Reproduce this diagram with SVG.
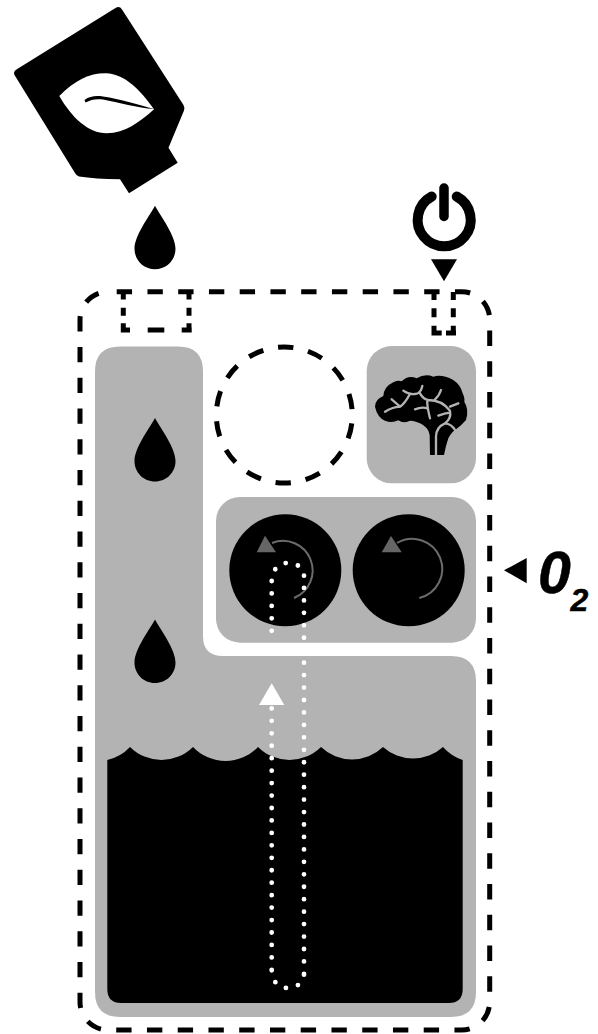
<svg xmlns="http://www.w3.org/2000/svg" width="598" height="1034" viewBox="0 0 598 1034">
<style>
.gray{fill:#b3b3b3}
.ink{fill:#000}
.dash{fill:none;stroke:#000;stroke-width:5}
.rot{fill:none;stroke:#6b6b6b;stroke-width:2}
.rothead{fill:#666}
.vein{fill:none;stroke:#b3b3b3;stroke-width:7;stroke-linecap:round;stroke-linejoin:round}
.dots{fill:none;stroke:#fff;stroke-width:4.8;stroke-linecap:round;stroke-dasharray:0 12.45}
.lbl{font-family:"Liberation Sans",Arial,sans-serif;font-weight:bold;font-style:italic;fill:#000;stroke:#000;stroke-width:.5}
</style>
<defs>
<path id="drop" d="M0 0C6 11 20.500 30 20.500 43C20.500 54.500 11.500 63.500 0 63.500C-11.500 63.500 -20.500 54.500 -20.500 43C-20.500 30 -6 11 0 0Z"/>
</defs>
<rect width="598" height="1034" fill="#fff"/>
<g id="tank-body">
<path class="gray" d="M120 346.500H178Q203 346.500 203 371.500V636Q203 656 223 656H451Q476 656 476 681V992Q476 1017 451 1017H120Q95 1017 95 992V371.500Q95 346.500 120 346.500Z"/>
</g>
<g id="water">
<path class="ink" d="M107.300 760A44.700 44.700 0 0 0 130 747A44.700 44.700 0 0 0 193 747A44.700 44.700 0 0 0 258 747A44.700 44.700 0 0 0 321 747A44.700 44.700 0 0 0 383 747A44.700 44.700 0 0 0 443 747A44.700 44.700 0 0 0 462.700 760V989Q462.700 1003 448.700 1003H121.300Q107.300 1003 107.300 989Z"/>
</g>
<g id="pump-box">
<rect class="gray" x="216" y="497" width="260" height="145.700" rx="24"/>
<circle class="ink" cx="285.300" cy="570.300" r="56"/>
<circle class="ink" cx="408.700" cy="570.300" r="56"/>
<path class="rot" d="M272 543A29.500 29.500 0 1 1 294 598"/>
<polygon class="rothead" points="265,535.700 256.700,552.300 276,552.300"/>
<path class="rot" d="M397 543A30 30 0 1 1 419.300 598"/>
<polygon class="rothead" points="391,536 381.700,552.300 401.700,552.300"/>
</g>
<g id="brain-box">
<rect class="gray" x="366.700" y="346" width="109.300" height="137.300" rx="25"/>
<g transform="translate(370 370) scale(.3333)">
<path class="ink" d="M180 255L179 195Q176 172 150 160Q128 150 118 153Q100 162 85 151Q65 160 45 152Q22 142 15 110Q15 88 40 78Q42 50 70 37Q85 30 95 34Q115 14 140 25Q165 10 190 20Q215 12 250 30Q272 45 278 70Q285 85 283 95Q298 120 288 150Q275 165 262 175Q245 185 235 205Q228 225 222 255Z"/>
<path class="vein" d="M45 125Q65 112 90 110Q105 100 118 75M65 88L90 110M100 62Q118 75 135 72Q152 72 157 48M150 70Q160 88 175 90Q215 90 240 122Q245 145 225 160Q198 172 198 200V255M172 90Q170 105 180 145M135 118Q155 110 172 115M195 88Q207 78 213 60M240 110L265 100M205 137Q225 130 240 128M225 160Q245 162 255 180"/>
</g>
</g>
<g id="drops-in-tank">
<use href="#drop" x="155" y="418"/>
<use href="#drop" x="155" y="619.500"/>
</g>
<g id="bottle">
<path class="ink" fill-rule="evenodd" d="M115.500 8Q119.500 5.500 122 9.500L183.500 105Q185 108 184 110.500L168.500 147.700L177.700 162.700L129 193.300L120 179.300Q95 179 79 176.500Q76.500 176 75 173L14.500 75Q13 72 16 69.800Z"/>
<path fill="#fff" d="M59.300 96C75 80 90 73 106 73.300C125 74 140 90 154 109.300C140 122 125 133 106.700 133.300C88 133 72 118 59.300 96Z"/>
<path class="ink" d="M84.500 100C90 96 96 95.500 103 96.500C120 99 140 105 154 109C138 108 118 102.500 103 99.500C96 98.500 91 99.500 85.500 102.500Z"/>
</g>
<g id="falling-drop">
<use href="#drop" x="155" y="205.700"/>
</g>
<g id="power">
<path fill="none" stroke="#000" stroke-width="10" stroke-linecap="round" d="M431.700 196.500A26.500 26.500 0 1 0 456.700 196.500"/>
<path fill="none" stroke="#000" stroke-width="9.500" stroke-linecap="round" d="M444 188V216.500"/>
<polygon class="ink" points="431,259.300 457,259.300 444,281.300"/>
</g>
<g id="enclosure">
<rect class="dash" x="80" y="291.700" width="409.700" height="738.300" rx="28" stroke-dasharray="15.350 15.400" stroke-dashoffset="22.050"/>
</g>
<g id="inlet-left">
<path class="dash" d="M123.300 292V299.500M123.300 307.700V315.700M123.300 323.300V332.500M121.300 330H130M147.700 330H164.300M181.700 330H191.700M189 292V299.500M189 307.700V315.700M189 323.300V332.500"/>
</g>
<g id="inlet-right">
<path class="dash" d="M434 292V300M434 308.300V317.300M434 325.700V335.500M431.700 333H441.700M446 333H456M453.300 292V300M453.300 308.300V317.300M453.300 325.700V335.500"/>
</g>
<g id="free-slot">
<circle class="dash" cx="284.300" cy="415" r="68" stroke-dasharray="15.500 15.010" stroke-dashoffset="-100"/>
</g>
<g id="connectors">
<path class="dots" d="M271.700 708.400V971M271.700 970.300C272 982 279 988 287.500 988C296 988 304 983 304 973.900M304 973.900V575.700M304 575.700C304 568 297 563 287.500 563C279 563 271.700 570 271.700 581M271.700 581V632"/>
<polygon fill="#fff" points="271.700,683.300 259,705 284.300,705"/>
</g>
<g id="oxygen">
<polygon class="ink" points="504,570.300 526.700,558 526.700,583.300"/>
<text class="lbl" x="538" y="592.700" font-size="59">0</text>
<text class="lbl" x="570.500" y="610.700" font-size="32">2</text>
</g>
</svg>
